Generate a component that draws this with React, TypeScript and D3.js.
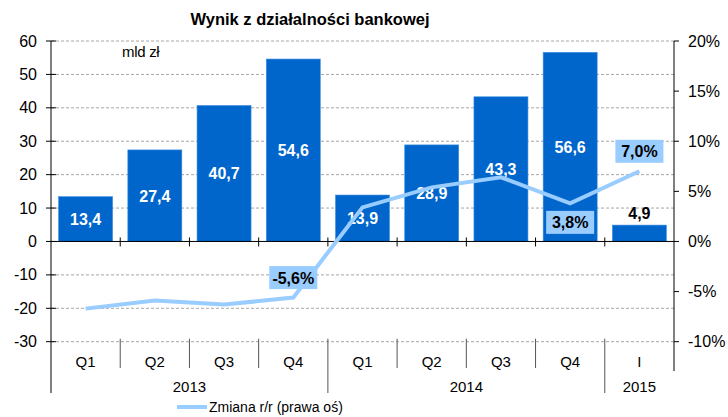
import React, { useEffect, useRef } from 'react';
import * as d3 from 'd3';

const quarters = ['Q1', 'Q2', 'Q3', 'Q4', 'Q1', 'Q2', 'Q3', 'Q4', 'I'];
const years = [
    { label: '2013', from: 0, to: 4 },
    { label: '2014', from: 4, to: 8 },
    { label: '2015', from: 8, to: 9 },
];
const wynik = [13.4, 27.4, 40.7, 54.6, 13.9, 28.9, 43.3, 56.6, 4.9];
const zmiana = [-6.7, -5.9, -6.3, -5.6, 3.4, 5.4, 6.4, 3.8, 7.0];
// which points of the line get a label, and where (above / below)
const zmianaLabels = [
    { i: 3, pos: 'above' },
    { i: 7, pos: 'below' },
    { i: 8, pos: 'above' },
];
const leftTicks = [-30, -20, -10, 0, 10, 20, 30, 40, 50, 60];
const rightTicks = [-10, -5, 0, 5, 10, 15, 20];

const WIDTH = 728;
const HEIGHT = 417;
const FONT = 'Arial, "Liberation Sans", sans-serif';
const fmt = (v: number) => v.toFixed(1).replace('.', ',');

const App = () => {
    const svgRef = useRef<SVGSVGElement>(null);

    useEffect(() => {
        const svg = d3.select(svgRef.current);
        svg.selectAll('*').remove();

        const left = 51;
        const right = 674;
        const top = 41;
        const bottom = 341.7;

        const x = d3.scaleBand<number>()
            .domain(d3.range(quarters.length))
            .range([left, right])
            .paddingInner(0.22)
            .paddingOuter(0.11);
        const step = (right - left) / quarters.length;
        const y = d3.scaleLinear().domain([-30, 60]).range([bottom, top]);
        const y2 = d3.scaleLinear().domain([-10, 20]).range([bottom, top]);

        svg.append('rect').attr('width', WIDTH).attr('height', HEIGHT).attr('fill', '#fff');

        // title
        svg.append('text')
            .attr('x', 310)
            .attr('y', 25)
            .attr('text-anchor', 'middle')
            .style('font-family', FONT)
            .style('font-size', '16.5px')
            .style('font-weight', 'bold')
            .text('Wynik z działalności bankowej');

        // gridlines
        svg.append('g')
            .selectAll('line')
            .data(leftTicks.filter(d => d !== 0))
            .enter()
            .append('line')
            .attr('x1', left)
            .attr('x2', right)
            .attr('y1', d => y(d))
            .attr('y2', d => y(d))
            .attr('stroke', '#a6a6a6')
            .attr('stroke-width', 1)
            .attr('stroke-dasharray', '3,2');

        // bars
        svg.append('g')
            .selectAll('rect')
            .data(wynik)
            .enter()
            .append('rect')
            .attr('x', (d, i) => x(i)!)
            .attr('y', d => y(d))
            .attr('width', x.bandwidth())
            .attr('height', d => y(0) - y(d))
            .attr('fill', '#0066cc')
            .attr('stroke', '#3d8fe0')
            .attr('stroke-width', 0.6);

        // bar labels
        svg.append('g')
            .selectAll('text')
            .data(wynik)
            .enter()
            .append('text')
            .attr('x', (d, i) => x(i)! + x.bandwidth() / 2)
            .attr('y', d => (d > 10 ? (y(d) + y(0)) / 2 + 6 : y(d) - 6))
            .attr('text-anchor', 'middle')
            .style('font-family', FONT)
            .style('font-size', '16px')
            .style('font-weight', 'bold')
            .style('fill', d => (d > 10 ? '#fff' : '#000'))
            .text(d => fmt(d));

        // left axis
        const la = svg.append('g').attr('transform', `translate(${left},0)`);
        la.append('line').attr('y1', top).attr('y2', 393).attr('stroke', '#000');
        la.selectAll('line.t')
            .data(leftTicks)
            .enter()
            .append('line')
            .attr('class', 't')
            .attr('x1', -5)
            .attr('x2', 5)
            .attr('y1', d => y(d))
            .attr('y2', d => y(d))
            .attr('stroke', '#000');
        la.selectAll('text')
            .data(leftTicks)
            .enter()
            .append('text')
            .attr('x', -14)
            .attr('y', d => y(d) + 5.5)
            .attr('text-anchor', 'end')
            .style('font-family', FONT)
            .style('font-size', '16px')
            .text(d => d);

        // right axis
        const ra = svg.append('g').attr('transform', `translate(${right},0)`);
        ra.append('line').attr('y1', top).attr('y2', 371).attr('stroke', '#000');
        ra.selectAll('line.t')
            .data(rightTicks)
            .enter()
            .append('line')
            .attr('class', 't')
            .attr('x1', 0)
            .attr('x2', 5)
            .attr('y1', d => y2(d))
            .attr('y2', d => y2(d))
            .attr('stroke', '#000');
        ra.selectAll('text')
            .data(rightTicks)
            .enter()
            .append('text')
            .attr('x', 14)
            .attr('y', d => y2(d) + 5.5)
            .style('font-family', FONT)
            .style('font-size', '16px')
            .text(d => `${d}%`);

        // zero line with category ticks
        svg.append('line')
            .attr('x1', left)
            .attr('x2', right)
            .attr('y1', y(0))
            .attr('y2', y(0))
            .attr('stroke', '#000');
        svg.append('g')
            .selectAll('line')
            .data(d3.range(1, quarters.length))
            .enter()
            .append('line')
            .attr('x1', i => left + i * step)
            .attr('x2', i => left + i * step)
            .attr('y1', y(0) - 4)
            .attr('y2', y(0) + 5)
            .attr('stroke', '#000');

        // category separators below the plot
        const yearBounds = new Set(years.map(yr => yr.from));
        svg.append('g')
            .selectAll('line')
            .data(d3.range(1, quarters.length))
            .enter()
            .append('line')
            .attr('x1', i => left + i * step)
            .attr('x2', i => left + i * step)
            .attr('y1', bottom - 3)
            .attr('y2', i => (yearBounds.has(i) ? 393 : 368))
            .attr('stroke', '#555');

        svg.append('g')
            .selectAll('text')
            .data(quarters)
            .enter()
            .append('text')
            .attr('x', (d, i) => left + (i + 0.5) * step)
            .attr('y', 367)
            .attr('text-anchor', 'middle')
            .style('font-family', FONT)
            .style('font-size', '15px')
            .text(d => d);

        svg.append('g')
            .selectAll('text')
            .data(years)
            .enter()
            .append('text')
            .attr('x', d => left + ((d.from + d.to) / 2) * step)
            .attr('y', 392)
            .attr('text-anchor', 'middle')
            .style('font-family', FONT)
            .style('font-size', '15px')
            .text(d => d.label);

        // line on right axis
        const line = d3.line<number>()
            .x((d, i) => left + (i + 0.5) * step)
            .y(d => y2(d));
        svg.append('path')
            .datum(zmiana)
            .attr('d', line)
            .attr('fill', 'none')
            .attr('stroke', '#99ccff')
            .attr('stroke-width', 4)
            .attr('stroke-linejoin', 'miter');

        // line labels
        const lbl = svg.append('g')
            .selectAll('g')
            .data(zmianaLabels)
            .enter()
            .append('g')
            .attr('transform', d => {
                const cx = left + (d.i + 0.5) * step;
                const cy = y2(zmiana[d.i]) + (d.pos === 'above' ? -20 : 19);
                return `translate(${cx},${cy})`;
            });
        lbl.append('rect')
            .attr('x', -24)
            .attr('y', -11.5)
            .attr('width', 48)
            .attr('height', 23)
            .attr('fill', '#99ccff');
        lbl.append('text')
            .attr('y', 6)
            .attr('text-anchor', 'middle')
            .style('font-family', FONT)
            .style('font-size', '16px')
            .style('font-weight', 'bold')
            .text(d => `${fmt(zmiana[d.i])}%`);

        // unit
        svg.append('text')
            .attr('x', 122)
            .attr('y', 57)
            .style('font-family', FONT)
            .style('font-size', '15px')
            .style('letter-spacing', '-0.3px')
            .text('mld zł');

        // legend
        svg.append('line')
            .attr('x1', 177)
            .attr('x2', 207)
            .attr('y1', 407)
            .attr('y2', 407)
            .attr('stroke', '#99ccff')
            .attr('stroke-width', 4);
        svg.append('text')
            .attr('x', 209)
            .attr('y', 412)
            .style('font-family', FONT)
            .style('font-size', '14px')
            .text('Zmiana r/r (prawa oś)');
    }, []);

    return (
        <svg
            ref={svgRef}
            width={WIDTH}
            height={HEIGHT}
            style={{ position: 'absolute', left: 0, top: 0, display: 'block' }}
        />
    );
};

export default App;
